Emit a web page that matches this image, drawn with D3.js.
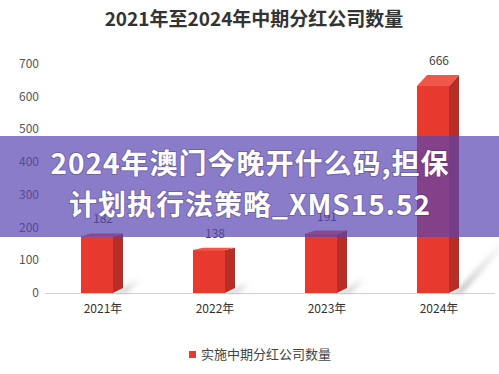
<!DOCTYPE html>
<html><head><meta charset="utf-8">
<script src="https://cdn.jsdelivr.net/npm/d3@7/dist/d3.min.js"></script>
<style>
body{margin:0;background:#fff;}
svg{display:block;font-family:"Noto Sans CJK SC","Noto Sans",sans-serif;}
</style></head>
<body>
<svg id="c" width="499" height="374"></svg>
<script>
const title = "2021年至2024年中期分红公司数量";
const categories = ["2021年","2022年","2023年","2024年"];
const values = [182, 138, 191, 666];
const valueLabels = ["182","138","191","666"];
const yTicks = [0,100,200,300,400,500,600,700];
const seriesName = "实施中期分红公司数量";
const overlayLines = ["2024年澳门今晚开什么码,担保","计划执行法策略_XMS15.52"];

const svg = d3.select("#c");
const W = 499, H = 374;
const base = 293;
const y = d3.scaleLinear().domain([0,700]).range([base,64]);
const x = d3.scaleBand().domain(categories).range([47,495]);

const defs = svg.append("defs");
const sg = defs.append("linearGradient").attr("id","sh").attr("x1","0").attr("y1","1").attr("x2","1").attr("y2","0");
sg.append("stop").attr("offset","0").attr("stop-color","#888").attr("stop-opacity",0.55);
sg.append("stop").attr("offset","1").attr("stop-color","#bbb").attr("stop-opacity",0);
defs.append("filter").attr("id","blur").append("feGaussianBlur").attr("stdDeviation",2);

// title
svg.append("text").attr("x",254).attr("y",26).attr("text-anchor","middle")
  .attr("font-size",19).attr("font-weight","bold").attr("fill","#333").text(title);

// y tick labels
svg.append("g").selectAll("text").data(yTicks).join("text")
  .attr("x",39).attr("y",d=>y(d)+4).attr("text-anchor","end")
  .attr("font-size",12).attr("fill","#555").text(d=>d);

// axis line
svg.append("line").attr("x1",45).attr("x2",495).attr("y1",base+0.5).attr("y2",base+0.5)
  .attr("stroke","#d0d0d0").attr("stroke-width",1);

const frontW = 32, depth = 10;
const bars = svg.append("g");
categories.forEach((c,i)=>{
  const v = values[i];
  const cx = x(c) + x.bandwidth()/2;
  const x0 = cx - 22, x1 = x0 + frontW;
  const yb = y(v);
  const h = base - yb;
  const dy = 0.05*h;
  const yf = yb + dy;
  // shadow
  const sh = Math.min(h*0.25, 55);
  bars.append("path")
    .attr("d",`M${x1},${base} L${x1+depth},${base-5} L${x1+depth+sh*0.8},${base-sh} L${x1+depth+sh*0.8+6},${base-sh+4} L${x1+depth+4},${base} Z`)
    .attr("fill","url(#sh)").attr("filter","url(#blur)");
  // front
  bars.append("rect").attr("x",x0).attr("y",yf).attr("width",frontW).attr("height",base-yf).attr("fill","#e8392f");
  // side
  bars.append("path").attr("d",`M${x1},${yf} L${x1+depth},${yb} L${x1+depth},${base-5} L${x1},${base} Z`).attr("fill","#b82e27");
  // top
  bars.append("path").attr("d",`M${x0},${yf} L${x0+depth},${yb} L${x1+depth},${yb} L${x1},${yf} Z`).attr("fill","#f0574b");
  // value label
  bars.append("text").attr("x",cx).attr("y",yb-10).attr("text-anchor","middle")
    .attr("font-size",12).attr("fill","#444").text(valueLabels[i]);
  // category label
  bars.append("text").attr("x",cx).attr("y",base+20).attr("text-anchor","middle")
    .attr("font-size",12).attr("fill","#333").text(c);
});

// legend
svg.append("rect").attr("x",189).attr("y",351).attr("width",7).attr("height",7).attr("fill","#e8392f");
svg.append("text").attr("x",201).attr("y",359).attr("font-size",13).attr("fill","#444").text(seriesName);

// overlay band
svg.append("rect").attr("x",0).attr("y",136).attr("width",W).attr("height",101)
  .attr("fill","rgb(88,68,176)").attr("fill-opacity",0.7);
const ot = svg.append("g").attr("font-size",28).attr("font-weight","bold").attr("fill","#fff")
  .attr("text-anchor","middle").attr("letter-spacing",1).style("paint-order","stroke")
  .attr("stroke","rgba(40,20,80,0.25)").attr("stroke-width",2);
overlayLines.forEach((t,i)=>{
  ot.append("text").attr("x",250).attr("y",174+i*41).text(t);
});
</script>
</body></html>
